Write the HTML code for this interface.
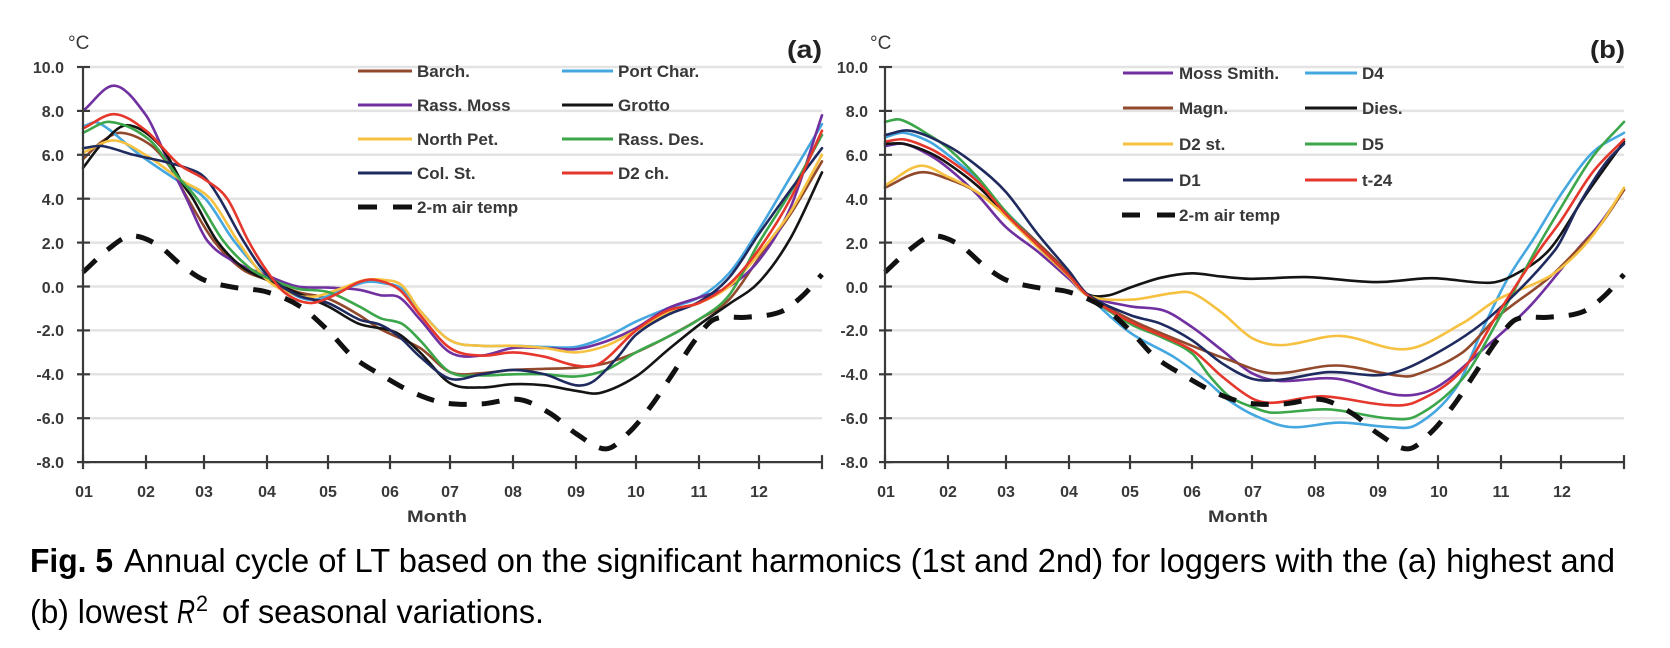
<!DOCTYPE html>
<html><head><meta charset="utf-8"><title>Fig. 5</title>
<style>
html,body{margin:0;padding:0;background:#fff;width:1670px;height:648px;overflow:hidden}
svg{display:block}
text{font-family:"Liberation Sans",Arial,sans-serif}
.tk{font-size:16px;font-weight:bold;fill:#383838}
.lg{font-size:17px;font-weight:bold;fill:#383838}
.mo{font-size:17px;font-weight:bold;fill:#383838}
.cap{font-size:33px;fill:#000}
</style></head><body>
<svg id="s" xmlns="http://www.w3.org/2000/svg" width="1670" height="648" viewBox="0 0 1670 648">
<rect x="0" y="0" width="1670" height="648" fill="#fff"/>
<g id="grid" stroke="#e3e3e3" stroke-width="2.5"></g>
<g id="series" fill="none" stroke-linejoin="round" stroke-linecap="round"></g>
<g id="axes" stroke="#3a3a3a" stroke-width="2.2" fill="none"></g>
<g id="legend" fill="none"></g>

<!-- Panel (a) labels -->
<text x="68" y="49" style="font-size:19px;fill:#383838">°C</text>
<text x="787" y="58" style="font-size:25px;font-weight:bold;fill:#222" textLength="35" lengthAdjust="spacingAndGlyphs">(a)</text>
<g class="tk" text-anchor="end">
<text x="64" y="73">10.0</text><text x="64" y="117">8.0</text><text x="64" y="161">6.0</text>
<text x="64" y="205">4.0</text><text x="64" y="249">2.0</text><text x="64" y="293">0.0</text>
<text x="64" y="336">-2.0</text><text x="64" y="380">-4.0</text><text x="64" y="424">-6.0</text>
<text x="64" y="468">-8.0</text>
</g>
<g class="tk" text-anchor="middle">
<text x="84" y="497">01</text><text x="146" y="497">02</text><text x="204" y="497">03</text>
<text x="267" y="497">04</text><text x="328" y="497">05</text><text x="390" y="497">06</text>
<text x="450" y="497">07</text><text x="513" y="497">08</text><text x="576" y="497">09</text>
<text x="636" y="497">10</text><text x="699" y="497">11</text><text x="759" y="497">12</text>
</g>
<text class="mo" x="437" y="522" text-anchor="middle" textLength="60" lengthAdjust="spacingAndGlyphs">Month</text>
<g class="lg">
<text x="417" y="77">Barch.</text>
<text x="417" y="111">Rass. Moss</text>
<text x="417" y="145">North Pet.</text>
<text x="417" y="179">Col. St.</text>
<text x="417" y="213">2-m air temp</text>
<text x="618" y="77">Port Char.</text>
<text x="618" y="111">Grotto</text>
<text x="618" y="145">Rass. Des.</text>
<text x="618" y="179">D2 ch.</text>
</g>

<!-- Panel (b) labels -->
<text x="870" y="49" style="font-size:19px;fill:#383838">°C</text>
<text x="1590" y="58" style="font-size:25px;font-weight:bold;fill:#222" textLength="35" lengthAdjust="spacingAndGlyphs">(b)</text>
<g class="tk" text-anchor="end">
<text x="868" y="73">10.0</text><text x="868" y="117">8.0</text><text x="868" y="161">6.0</text>
<text x="868" y="205">4.0</text><text x="868" y="249">2.0</text><text x="868" y="293">0.0</text>
<text x="868" y="336">-2.0</text><text x="868" y="380">-4.0</text><text x="868" y="424">-6.0</text>
<text x="868" y="468">-8.0</text>
</g>
<g class="tk" text-anchor="middle">
<text x="886" y="497">01</text><text x="948" y="497">02</text><text x="1006" y="497">03</text>
<text x="1069" y="497">04</text><text x="1130" y="497">05</text><text x="1192" y="497">06</text>
<text x="1253" y="497">07</text><text x="1316" y="497">08</text><text x="1378" y="497">09</text>
<text x="1439" y="497">10</text><text x="1501" y="497">11</text><text x="1562" y="497">12</text>
</g>
<text class="mo" x="1238" y="522" text-anchor="middle" textLength="60" lengthAdjust="spacingAndGlyphs">Month</text>
<g class="lg">
<text x="1179" y="79">Moss Smith.</text>
<text x="1179" y="114">Magn.</text>
<text x="1179" y="150">D2 st.</text>
<text x="1179" y="186">D1</text>
<text x="1179" y="221">2-m air temp</text>
<text x="1362" y="79">D4</text>
<text x="1362" y="114">Dies.</text>
<text x="1362" y="150">D5</text>
<text x="1362" y="186">t-24</text>
</g>

<!-- Caption -->
<text class="cap" x="30" y="572" font-weight="bold" textLength="83" lengthAdjust="spacingAndGlyphs">Fig. 5</text>
<text class="cap" x="124" y="572" textLength="1491" lengthAdjust="spacingAndGlyphs">Annual cycle of LT based on the significant harmonics (1st and 2nd) for loggers with the (a) highest and</text>
<text class="cap" x="30" y="623" textLength="138" lengthAdjust="spacingAndGlyphs">(b) lowest</text>
<text class="cap" x="177" y="623" font-style="italic" textLength="18" lengthAdjust="spacingAndGlyphs">R</text>
<text x="196" y="611" style="font-size:22px;fill:#000" textLength="12" lengthAdjust="spacingAndGlyphs">2</text>
<text class="cap" x="222" y="623" textLength="322" lengthAdjust="spacingAndGlyphs">of seasonal variations.</text>
</svg>
<script>
(function(){
var NS='http://www.w3.org/2000/svg';
var Y0=286.5,K=21.95;
var TL=[83,146,204,267,328,390,450,513,576,636,699,759,822];
var TR=TL.map(function(x){return x+802;});
function f(v){return v.toFixed(1);}
function X(p,T){var i=Math.floor(p);if(i>11)i=11;if(i<0)i=0;return T[i]+(T[i+1]-T[i])*(p-i);}
function Yv(v){return Y0-K*v;}
function el(parent,name,attrs){var e=document.createElementNS(NS,name);for(var k in attrs)e.setAttribute(k,attrs[k]);parent.appendChild(e);return e;}
function path(pts,T){
  var P=pts.map(function(q){return [X(q[0],T),Yv(q[1])];});
  var n=P.length,m=[];
  for(var i=0;i<n;i++){
    var a=P[Math.max(0,i-1)],b=P[Math.min(n-1,i+1)];
    m.push((b[1]-a[1])/(b[0]-a[0]));
  }
  var d='M'+f(P[0][0])+' '+f(P[0][1]);
  for(var i=0;i<n-1;i++){
    var dx=P[i+1][0]-P[i][0];
    d+=' C'+f(P[i][0]+dx/3)+' '+f(P[i][1]+m[i]*dx/3)+' '+f(P[i+1][0]-dx/3)+' '+f(P[i+1][1]-m[i+1]*dx/3)+' '+f(P[i+1][0])+' '+f(P[i+1][1]);
  }
  return d;
}
var grid=document.getElementById('grid'),axes=document.getElementById('axes'),ser=document.getElementById('series'),leg=document.getElementById('legend');
[TL,TR].forEach(function(T){
  var x0=T[0],x1=T[12];
  [10,8,6,4,2,0,-2,-4,-6].forEach(function(v){el(grid,'line',{x1:x0+7,y1:Yv(v),x2:x1,y2:Yv(v)});});
  el(axes,'line',{x1:x0,y1:Yv(10),x2:x0,y2:Yv(-8)});
  el(axes,'line',{x1:x0,y1:Yv(-8),x2:x1,y2:Yv(-8)});
  for(var v=10;v>=-8;v-=2)el(axes,'line',{x1:x0-6,y1:Yv(v),x2:x0+7,y2:Yv(v)});
  for(var i=0;i<13;i++)el(axes,'line',{x1:T[i],y1:Yv(-8)-7,x2:T[i],y2:Yv(-8)+7});
});
var C={brown:'#92492c',blue:'#45a7e0',purple:'#7030a0',black:'#141414',yellow:'#f6c140',green:'#3ca64a',navy:'#1f2a5f',red:'#e5372c'};
var air=[[0,0.65],[0.4,1.7],[0.75,2.3],[1.2,1.9],[1.6,1.0],[2,0.3],[2.5,-0.05],[3,-0.25],[3.54,-0.9],[4,-2.0],[4.4,-3.2],[4.9,-4.1],[5.4,-4.85],[5.9,-5.3],[6.5,-5.35],[7.1,-5.15],[7.6,-5.8],[8.0,-6.7],[8.5,-7.4],[8.9,-6.6],[9.25,-5.4],[9.6,-3.9],[9.95,-2.4],[10.25,-1.5],[10.8,-1.4],[11.35,-1.15],[11.7,-0.4],[12,0.55]];
var A=[
 ['brown',[[0,5.8],[0.3,6.6],[0.6,7.0],[1.05,6.5],[1.4,5.5],[1.72,4.0],[2.15,2.1],[2.6,0.8],[3,0.3],[3.5,-0.25],[4,-0.55],[4.5,-1.3],[4.85,-1.95],[5.5,-2.8],[6,-3.9],[6.5,-3.95],[7,-3.8],[7.5,-3.75],[8,-3.7],[8.5,-3.5],[9,-3.0],[9.5,-2.3],[10,-1.5],[10.5,-0.6],[11,1.3],[11.5,3.3],[12,5.7]]],
 ['blue',[[0,7.3],[0.25,7.45],[0.9,6.0],[1.5,4.9],[2.02,4.0],[2.47,2.1],[3,0.4],[3.5,-0.45],[3.8,-0.6],[4.2,-0.2],[4.6,0.2],[4.9,0.15],[5.2,-0.1],[5.5,-1.1],[6,-2.45],[6.5,-2.7],[7,-2.7],[7.5,-2.75],[8,-2.75],[8.5,-2.3],[9,-1.6],[9.5,-1.0],[10,-0.5],[10.5,0.6],[11,2.6],[11.5,5.0],[12,7.4]]],
 ['purple',[[0,8.0],[0.5,9.15],[1,7.8],[1.35,5.9],[1.7,4.0],[2.05,2.1],[2.5,1.1],[3,0.5],[3.5,0.0],[4,-0.05],[4.5,-0.15],[4.85,-0.4],[5.16,-0.5],[5.5,-1.5],[6,-3.0],[6.5,-3.15],[7,-2.8],[7.5,-2.8],[8,-2.85],[8.5,-2.5],[9,-1.9],[9.5,-1.0],[10,-0.5],[10.5,0.0],[11,1.2],[11.5,3.6],[12,7.8]]],
 ['black',[[0,5.4],[0.3,6.5],[0.7,7.35],[1.25,6.4],[1.65,4.6],[1.81,4.0],[2.2,2.1],[2.6,0.9],[3,0.3],[3.5,-0.3],[4,-0.9],[4.5,-1.7],[5.1,-2.1],[5.5,-3.0],[6,-4.4],[6.5,-4.6],[7,-4.45],[7.5,-4.5],[8,-4.75],[8.4,-4.85],[9,-4.1],[9.5,-2.9],[10,-1.75],[10.5,-0.8],[11,0.2],[11.5,2.2],[12,5.2]]],
 ['yellow',[[0,6.1],[0.5,6.65],[1.05,5.9],[1.6,4.85],[2.1,4.0],[2.53,2.1],[3,0.3],[3.5,-0.4],[3.8,-0.45],[4.2,-0.1],[4.6,0.3],[4.9,0.3],[5.2,0.05],[5.5,-1.1],[6,-2.45],[6.5,-2.7],[7,-2.7],[7.5,-2.8],[8,-3.0],[8.5,-2.7],[9,-2.0],[9.5,-1.2],[10,-0.75],[10.5,0.0],[11,1.5],[11.5,3.4],[12,6.0]]],
 ['green',[[0,7.0],[0.43,7.5],[1.05,6.7],[1.55,5.0],[1.88,4.0],[2.3,2.1],[2.7,0.9],[3,0.4],[3.5,-0.1],[4,-0.25],[4.5,-0.9],[4.85,-1.45],[5.2,-1.7],[5.5,-2.45],[6,-3.9],[6.5,-4.05],[7,-4.0],[7.5,-4.0],[8,-4.1],[8.5,-3.8],[9,-3.0],[9.5,-2.3],[10,-1.5],[10.5,-0.4],[11,2.0],[11.5,4.3],[12,6.9]]],
 ['navy',[[0,6.3],[0.3,6.4],[0.8,6.0],[1.3,5.7],[1.7,5.4],[2,5.0],[2.25,4.0],[2.62,2.1],[3,0.55],[3.5,-0.4],[4,-0.75],[4.5,-1.5],[4.85,-1.75],[5.16,-2.3],[5.5,-3.2],[6,-4.2],[6.5,-4.0],[7,-3.8],[7.5,-4.0],[8,-4.5],[8.3,-4.3],[8.7,-3.2],[9,-2.2],[9.5,-1.3],[10,-0.7],[10.5,0.4],[11,2.4],[11.5,4.4],[12,6.3]]],
 ['red',[[0,7.2],[0.5,7.85],[1,7.1],[1.55,5.6],[2,4.9],[2.37,4.0],[2.7,2.1],[3,0.7],[3.3,-0.3],[3.7,-0.75],[4.1,-0.4],[4.5,0.2],[4.76,0.3],[5.16,-0.15],[5.5,-1.3],[6,-2.8],[6.5,-3.15],[7,-3.0],[7.5,-3.2],[8,-3.6],[8.4,-3.5],[9,-2.0],[9.5,-1.1],[10,-0.75],[10.5,0.1],[11,1.7],[11.5,4.0],[12,7.1]]]
];
var B=[
 ['purple',[[0,6.4],[0.3,6.5],[0.7,6.0],[1,5.4],[1.5,4.2],[2,2.7],[2.5,1.6],[3,0.35],[3.3,-0.4],[4,-0.9],[4.55,-1.1],[5,-1.85],[5.5,-2.9],[6,-3.95],[6.44,-4.3],[7.34,-4.2],[8.36,-4.95],[8.97,-4.6],[9.7,-2.9],[10.48,-0.9],[11.25,1.66],[11.6,2.8],[12,4.4]]],
 ['blue',[[0,6.8],[0.3,7.0],[0.7,6.6],[1,6.0],[1.5,4.9],[2,3.4],[2.5,2.0],[3,0.5],[3.3,-0.4],[4,-2.1],[4.7,-3.2],[5.24,-4.3],[5.62,-5.2],[6.06,-5.9],[6.6,-6.4],[7.39,-6.2],[8.2,-6.4],[8.64,-6.3],[9.29,-4.6],[9.7,-2.0],[10.1,0.3],[10.55,2.2],[11,4.2],[11.5,6.1],[12,7.0]]],
 ['brown',[[0,4.5],[0.55,5.2],[1,4.9],[1.5,4.3],[2,3.3],[2.5,2.0],[3,0.6],[3.3,-0.35],[4,-1.5],[5,-2.7],[5.62,-3.35],[6.32,-3.95],[7.34,-3.6],[8.31,-4.05],[8.6,-4.05],[9.39,-3.0],[9.94,-1.4],[10.8,0.4],[11.3,1.8],[11.65,2.9],[12,4.4]]],
 ['black',[[0,6.5],[0.3,6.5],[0.7,6.1],[1,5.6],[1.5,4.6],[2,3.3],[2.5,1.9],[3,0.5],[3.3,-0.35],[3.65,-0.4],[4,-0.05],[4.5,0.4],[5,0.6],[5.5,0.45],[6,0.35],[6.86,0.43],[7.98,0.2],[8.9,0.38],[9.82,0.17],[10.2,0.5],[10.8,1.66],[11.4,4.2],[12,6.6]]],
 ['yellow',[[0,4.6],[0.55,5.5],[1,5.0],[1.5,4.3],[2,3.2],[2.5,1.8],[3,0.45],[3.3,-0.4],[4,-0.6],[4.7,-0.3],[5,-0.3],[5.5,-1.2],[6,-2.35],[6.48,-2.67],[7.39,-2.25],[8.48,-2.85],[9.39,-1.67],[9.94,-0.6],[10.8,0.45],[11.25,1.5],[11.6,2.7],[12,4.5]]],
 ['green',[[0,7.5],[0.25,7.6],[0.7,6.9],[1,6.3],[1.5,5.0],[2,3.4],[2.5,1.9],[3,0.5],[3.3,-0.4],[4,-1.7],[4.5,-2.3],[5,-3.05],[5.3,-4.1],[5.62,-5.0],[6.06,-5.55],[6.32,-5.75],[7.22,-5.6],[8.15,-6.0],[8.64,-5.9],[9.39,-4.2],[9.94,-1.6],[10.58,1.66],[11,3.6],[11.5,5.9],[12,7.5]]],
 ['navy',[[0,6.9],[0.4,7.1],[1,6.4],[1.5,5.5],[2,4.3],[2.5,2.4],[3,0.7],[3.3,-0.35],[4,-1.3],[4.5,-1.7],[5,-2.45],[5.5,-3.5],[6,-4.2],[6.44,-4.25],[7.22,-3.9],[8.15,-4.0],[8.97,-3.05],[9.82,-1.4],[10.9,1.66],[11.3,3.8],[11.7,5.6],[12,6.5]]],
 ['red',[[0,6.6],[0.3,6.7],[0.7,6.3],[1,5.8],[1.5,4.8],[2,3.3],[2.5,1.9],[3,0.5],[3.3,-0.4],[4,-1.6],[5,-2.9],[5.5,-4.1],[6,-5.1],[6.32,-5.3],[7.11,-5.0],[8.15,-5.4],[8.64,-5.25],[9.39,-3.8],[9.98,-1.1],[10.64,1.66],[11,3.0],[11.5,5.2],[12,6.7]]]
];
function draw(list,T){
  list.forEach(function(s){el(ser,'path',{d:path(s[1],T),stroke:C[s[0]],'stroke-width':2.6});});
  el(ser,'path',{d:path(air,T),stroke:'#111','stroke-width':5,'stroke-dasharray':'18 15','stroke-linecap':'butt'});
}
draw(A,TL);draw(B,TR);
function lline(x1,x2,y,c){el(leg,'line',{x1:x1,y1:y,x2:x2,y2:y,stroke:C[c],'stroke-width':3});}
var rl=[71,105,139,173];
lline(358,412,rl[0],'brown');lline(358,412,rl[1],'purple');lline(358,412,rl[2],'yellow');lline(358,412,rl[3],'navy');
lline(562,613,rl[0],'blue');lline(562,613,rl[1],'black');lline(562,613,rl[2],'green');lline(562,613,rl[3],'red');
el(leg,'line',{x1:358,y1:207,x2:377,y2:207,stroke:'#111','stroke-width':5});
el(leg,'line',{x1:393,y1:207,x2:412,y2:207,stroke:'#111','stroke-width':5});
var rr=[73,108,144,180];
lline(1123,1173,rr[0],'purple');lline(1123,1173,rr[1],'brown');lline(1123,1173,rr[2],'yellow');lline(1123,1173,rr[3],'navy');
lline(1305,1357,rr[0],'blue');lline(1305,1357,rr[1],'black');lline(1305,1357,rr[2],'green');lline(1305,1357,rr[3],'red');
el(leg,'line',{x1:1122,y1:215,x2:1140,y2:215,stroke:'#111','stroke-width':5});
el(leg,'line',{x1:1157,y1:215,x2:1175,y2:215,stroke:'#111','stroke-width':5});
})();
</script>
</body></html>
